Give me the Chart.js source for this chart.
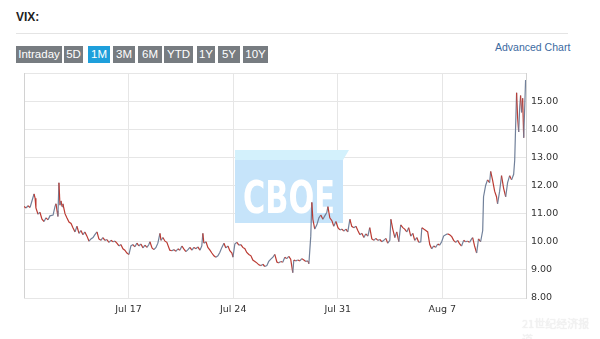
<!DOCTYPE html>
<html>
<head>
<meta charset="utf-8">
<script src="https://cdn.jsdelivr.net/npm/chart.js@4/dist/chart.umd.min.js"></script>
<style>
  html, body { margin: 0; padding: 0; background: #fff; }
  body { width: 600px; height: 339px; position: relative; overflow: hidden; font-family: "Liberation Sans", Arial, sans-serif; }
  .title { position: absolute; left: 16px; top: 10px; font-size: 12px; font-weight: bold; color: #222; }
  .rule { position: absolute; left: 16px; top: 33px; width: 552px; height: 1px; background: #e4e4e4; }
  .btns { position: absolute; left: 16px; top: 46px; height: 17px; }
  .btn { position: absolute; top: 0; height: 17px; line-height: 17px; text-align: center; color: #fff; background: #777c81; font-size: 11.5px; }
  .btn.on { background: #1e9fdb; }
  .adv { position: absolute; left: 495px; top: 41px; font-size: 10.5px; color: #3b6a9f; }
  .wm { position: absolute; left: 522px; top: 315px; font-size: 11px; color: #f4f4f4; font-family: "Noto Sans CJK SC", sans-serif; text-shadow: 0 0 1px #dcdcdc; }
  #wrap { position: absolute; left: 0; top: 0; width: 600px; height: 339px; }
</style>
</head>
<body>
<div class="title">VIX:</div>
<div class="rule"></div>
<div class="btns" id="btns"></div>
<div class="adv">Advanced Chart</div>
<div id="wrap"><canvas id="vix-chart"></canvas></div>
<div class="wm">21世纪经济报道</div>
<script>
// ช่วงเวลาให้เลือก (ปุ่มด้านบน)
const rangeButtons = ['Intraday', '5D', '1M', '3M', '6M', 'YTD', '1Y', '5Y', '10Y'];
const activeRange = '1M';

// แกน x เป็นวันทำการนับจาก Jul 10 (0 = เปิดตลาด Jul 10)
const tickDays = [5, 10, 15, 20];
const tickLabels = ['Jul 17', 'Jul 24', 'Jul 31', 'Aug 7'];
const yTicks = [8, 9, 10, 11, 12, 13, 14, 15, 16];

const dayOffsets = [
  0.00, 0.10, 0.19, 0.29, 0.38, 0.48, 0.53, 0.57, 0.67, 0.76, 0.86, 0.96, 1.05, 1.15, 1.24, 1.39,
  1.48, 1.53, 1.58, 1.62, 1.67, 1.72, 1.77, 1.82, 1.86, 1.96, 2.05, 2.15, 2.25, 2.34, 2.44, 2.53,
  2.63, 2.72, 2.82, 2.91, 3.01, 3.11, 3.20, 3.30, 3.39, 3.49, 3.58, 3.68, 3.77, 3.87, 3.96, 4.06,
  4.16, 4.25, 4.35, 4.44, 4.54, 4.63, 4.73, 4.82, 4.92, 5.02, 5.11, 5.21, 5.30, 5.40, 5.49, 5.59,
  5.69, 5.78, 5.88, 5.97, 6.02, 6.12, 6.21, 6.31, 6.40, 6.50, 6.55, 6.64, 6.74, 6.83, 6.97, 7.07,
  7.17, 7.26, 7.36, 7.45, 7.55, 7.64, 7.74, 7.84, 7.93, 8.03, 8.12, 8.22, 8.31, 8.41, 8.50, 8.55,
  8.60, 8.70, 8.79, 8.89, 8.98, 9.08, 9.17, 9.27, 9.36, 9.46, 9.56, 9.65, 9.75, 9.84, 9.94, 9.99,
  10.08, 10.18, 10.27, 10.37, 10.46, 10.56, 10.65, 10.75, 10.85, 10.94, 11.04, 11.13, 11.23, 11.32, 11.42, 11.51,
  11.61, 11.70, 11.80, 11.90, 11.99, 12.09, 12.18, 12.28, 12.37, 12.47, 12.56, 12.66, 12.75, 12.85, 12.90, 12.99,
  13.09, 13.19, 13.28, 13.38, 13.47, 13.57, 13.62, 13.71, 13.76, 13.81, 13.90, 14.00, 14.10, 14.19, 14.29, 14.38,
  14.48, 14.53, 14.62, 14.72, 14.81, 14.91, 15.01, 15.10, 15.20, 15.29, 15.39, 15.48, 15.58, 15.67, 15.77, 15.87,
  15.96, 16.06, 16.15, 16.25, 16.34, 16.44, 16.53, 16.63, 16.73, 16.82, 16.92, 17.01, 17.11, 17.20, 17.30, 17.39,
  17.49, 17.54, 17.63, 17.73, 17.82, 17.92, 18.01, 18.11, 18.20, 18.30, 18.39, 18.49, 18.59, 18.68, 18.78, 18.87,
  18.97, 19.02, 19.11, 19.21, 19.30, 19.40, 19.49, 19.59, 19.68, 19.78, 19.87, 19.97, 20.06, 20.16, 20.25, 20.35,
  20.45, 20.54, 20.64, 20.73, 20.83, 20.92, 21.02, 21.11, 21.21, 21.30, 21.40, 21.45, 21.54, 21.64, 21.73, 21.83,
  21.93, 21.97, 22.07, 22.16, 22.26, 22.31, 22.40, 22.50, 22.59, 22.64, 22.74, 22.83, 22.93, 23.03, 23.12, 23.22,
  23.31, 23.41, 23.46, 23.50, 23.55, 23.60, 23.65, 23.70, 23.74, 23.79, 23.84, 23.89, 23.93, 23.98
];

const vixValues = [
  11.25, 11.20, 11.28, 11.22, 11.45, 11.70, 11.55, 11.20, 10.98, 11.05, 10.80, 10.72, 10.85, 10.78, 10.92, 10.95,
  11.25, 11.35, 11.10, 10.90, 12.10, 11.30, 11.45, 11.25, 11.35, 11.00, 10.85, 10.70, 10.65, 10.50, 10.35, 10.55,
  10.30, 10.40, 10.25, 10.35, 10.20, 10.02, 10.10, 10.15, 10.25, 10.35, 10.10, 10.05, 10.15, 10.05, 10.08, 9.98,
  10.05, 10.00, 10.02, 9.95, 9.85, 9.90, 9.75, 9.70, 9.60, 9.55, 9.85, 9.90, 9.82, 9.95, 9.85, 9.92,
  9.78, 9.88, 9.80, 9.90, 10.00, 9.78, 9.72, 9.80, 9.95, 10.30, 10.05, 10.15, 10.02, 9.98, 9.70, 9.68,
  9.72, 9.66, 9.75, 9.70, 9.85, 9.75, 9.65, 9.72, 9.80, 9.70, 9.80, 9.75, 9.82, 9.70, 9.85, 10.30,
  9.95, 10.00, 9.80, 9.70, 9.60, 9.50, 9.45, 9.50, 9.62, 9.80, 9.95, 9.78, 9.85, 9.68, 9.60, 9.45,
  9.92, 9.98, 9.88, 9.90, 9.80, 9.75, 9.62, 9.55, 9.50, 9.35, 9.30, 9.25, 9.18, 9.15, 9.20, 9.12,
  9.15, 9.30, 9.38, 9.45, 9.55, 9.28, 9.25, 9.30, 9.27, 9.45, 9.40, 9.48, 9.38, 8.90, 9.35, 9.32,
  9.35, 9.32, 9.40, 9.35, 9.30, 9.32, 9.22, 10.20, 11.40, 10.80, 10.45, 10.60, 10.85, 10.95, 10.80, 10.92,
  11.05, 11.25, 10.85, 10.75, 10.55, 10.72, 10.50, 10.42, 10.45, 10.38, 10.45, 10.35, 10.80, 10.55, 10.50, 10.55,
  10.40, 10.25, 10.30, 10.15, 10.28, 10.20, 10.50, 10.10, 10.05, 10.12, 10.05, 10.08, 10.00, 10.05, 10.12, 9.95,
  10.05, 10.80, 10.45, 10.15, 10.35, 10.00, 10.60, 10.50, 10.45, 10.35, 10.50, 10.20, 10.30, 10.05, 10.15, 9.98,
  10.00, 10.50, 10.45, 10.40, 10.35, 9.90, 9.75, 9.85, 9.80, 9.92, 9.88, 10.00, 10.20, 10.25, 10.28, 10.25,
  10.18, 10.05, 9.98, 10.05, 9.92, 9.85, 10.05, 10.00, 10.02, 9.98, 10.10, 10.15, 9.85, 9.60, 10.10, 10.00,
  10.40, 11.60, 12.00, 12.20, 12.10, 12.50, 12.20, 11.80, 11.60, 11.35, 11.80, 12.35, 11.90, 11.60, 12.10, 12.35,
  12.20, 12.40, 12.90, 14.00, 15.30, 14.40, 13.90, 14.80, 15.20, 14.60, 15.10, 13.70, 14.60, 15.75
];

const COLORS = {
  down: '#bb3b33',
  up: '#71809a',
  grid: '#e6e6e6',
  border: '#d2d2d2',
  tick: '#333333'
};

// ปุ่มช่วงเวลา
const btnLeft = [0, 48, 72, 97, 122, 148, 181, 202, 227];
const btnWidth = [46, 19, 22, 22, 24, 29, 18, 22, 25];
document.getElementById('btns').innerHTML = rangeButtons.map((b, i) =>
  `<div class="btn${b === activeRange ? ' on' : ''}" style="left:${btnLeft[i]}px;width:${btnWidth[i]}px">${b}</div>`).join('');

// ลายน้ำ CBOE หลังเส้นกราฟ
const cboeMark = {
  id: 'cboeMark',
  beforeDatasetsDraw(chart) {
    const ctx = chart.ctx;
    ctx.save();
    ctx.fillStyle = '#d3f1fc';
    ctx.beginPath();
    ctx.moveTo(235, 150);
    ctx.lineTo(349, 150);
    ctx.lineTo(343, 160);
    ctx.lineTo(235, 160);
    ctx.closePath();
    ctx.fill();
    ctx.fillStyle = '#c6e4fa';
    ctx.fillRect(235, 160, 108, 63);
    ctx.fillStyle = '#ffffff';
    ctx.font = 'bold 44px "DejaVu Sans", sans-serif';
    ctx.textBaseline = 'alphabetic';
    const w = ctx.measureText('CBOE').width;
    ctx.translate(243, 213);
    ctx.scale(92 / w, 1);
    ctx.fillText('CBOE', 0, 0);
    ctx.restore();
    // เส้นขอบซ้าย
    const a = chart.chartArea;
    ctx.save();
    ctx.strokeStyle = COLORS.border;
    ctx.lineWidth = 1;
    ctx.beginPath();
    ctx.moveTo(a.left + 0.5, a.top);
    ctx.lineTo(a.left + 0.5, a.bottom);
    ctx.stroke();
    ctx.restore();
  }
};

const points = dayOffsets.map((d, i) => ({ x: d, y: vixValues[i] }));

new Chart(document.getElementById('vix-chart'), {
  type: 'line',
  data: {
    datasets: [{
      label: 'VIX',
      data: points,
      borderWidth: 1.2,
      pointRadius: 0,
      tension: 0,
      borderColor: COLORS.up,
      segment: {
        borderColor: ctx => ctx.p1.parsed.y < ctx.p0.parsed.y ? COLORS.down : COLORS.up
      }
    }]
  },
  options: {
    responsive: true, maintainAspectRatio: false, animation: false,
    layout: { padding: { left: 24, top: 73, right: 0, bottom: 0 } },
    plugins: { legend: { display: false }, tooltip: { enabled: false } },
    scales: {
      x: {
        type: 'linear', min: 0, max: 24,
        afterBuildTicks: s => { s.ticks = tickDays.map(v => ({ value: v })); },
        afterFit: s => { s.height = 41; },
        grid: { color: COLORS.grid, drawTicks: false },
        border: { display: true, color: COLORS.grid },
        ticks: {
          padding: 6, color: COLORS.tick, maxRotation: 0,
          font: { family: '"DejaVu Sans", Verdana, sans-serif', size: 9.5 },
          callback: v => tickLabels[tickDays.indexOf(v)] ?? ''
        }
      },
      y: {
        position: 'right', min: 8, max: 16,
        afterBuildTicks: s => { s.ticks = yTicks.map(v => ({ value: v })); },
        afterFit: s => { s.width = 74; },
        grid: { color: COLORS.grid, drawTicks: false },
        border: { display: true, color: COLORS.border },
        ticks: {
          padding: 5, color: COLORS.tick,
          font: { family: '"DejaVu Sans", Verdana, sans-serif', size: 9.5 },
          callback: v => v === 16 ? '' : v.toFixed(2)
        }
      }
    }
  },
  plugins: [cboeMark]
});
</script>
</body>
</html>
